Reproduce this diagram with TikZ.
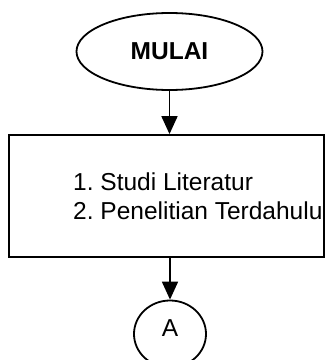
\documentclass[tikz,border=0pt]{standalone}
\usepackage{fontspec}
\setmainfont{Liberation Sans}
\frenchspacing
\usetikzlibrary{arrows.meta}
\usetikzlibrary{shapes.geometric}
\tikzset{>={Triangle[width=16pt,length=18pt]}}
\tikzset{
  garis/.style={line width=1.8pt},
  terminal/.style={ellipse, draw, garis, inner sep=0pt},
  proses/.style={rectangle, draw, garis, inner sep=0pt},
}

\begin{document}
\begin{tikzpicture}[x=1pt, y=1pt, font=\fontsize{24.5}{30}\selectfont]
        \useasboundingbox (0, 0) rectangle (326, 360);
        % node
        \node[terminal, minimum width=186pt, minimum height=77pt] (mulai) at (169.5, 308.5) {\bfseries MULAI};
        \node[proses, minimum width=315pt, minimum height=122pt] (box) at (166.5, 164) {};
        \node[anchor=base west, align=left, inner sep=0pt] (langkah) at (73, 140) {1. Studi Literatur\\2. Penelitian Terdahulu};
        \node[terminal, minimum width=72pt, minimum height=67pt, text depth=12pt] (akhir) at (170, 26) {A};
        % lines
        \draw[garis, ->] (mulai) -- (mulai |- box.north);
        \draw[garis, ->] (akhir.north |- box.south) -- (akhir);
      \end{tikzpicture}
\end{document}
